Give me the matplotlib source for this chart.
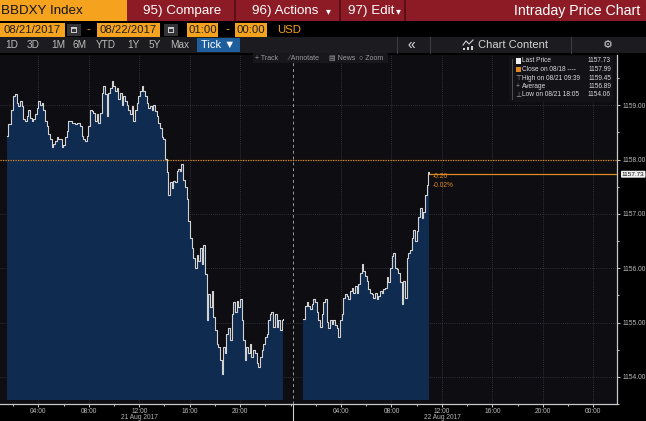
import matplotlib
matplotlib.use("Agg")
import matplotlib.pyplot as plt
import matplotlib.transforms as mtransforms
from matplotlib.patches import Rectangle
from matplotlib.lines import Line2D
import numpy as np

plt.rcParams['font.family'] = ['Liberation Sans', 'DejaVu Sans']

# ---------------- data ----------------
TICKER = "BBDXY Index"
START_DATE, END_DATE = "08/21/2017", "08/22/2017"
START_TIME, END_TIME = "01:00", "00:00"
CURRENCY = "USD"
PERIOD_BUTTONS = ["1D", "3D", "1M", "6M", "YTD", "1Y", "5Y", "Max"]

# minutes since 21 Aug 2017 00:00
day1_minutes = [
    90, 97, 110, 121, 129, 137, 145, 153, 161, 168,
    176, 184, 192, 200, 208, 216, 224, 232, 240, 248,
    256, 264, 272, 280, 288, 296, 303, 311, 319, 327,
    335, 343, 351, 359, 367, 375, 383, 391, 399, 406,
    414, 422, 430, 438, 446, 454, 462, 470, 478, 486,
    494, 502, 509, 517, 525, 533, 541, 549, 557, 565,
    573, 581, 589, 597, 605, 612, 620, 628, 636, 644,
    652, 660, 668, 676, 684, 692, 700, 708, 715, 723,
    731, 739, 747, 755, 763, 771, 779, 787, 795, 803,
    811, 818, 826, 834, 842, 850, 858, 866, 874, 882,
    890, 898, 906, 914, 921, 929, 937, 945, 953, 961,
    969, 977, 985, 993, 1001, 1009, 1017, 1024, 1032, 1040,
    1048, 1056, 1064, 1072, 1080, 1088, 1096, 1104, 1112, 1120,
    1127, 1135, 1143, 1151, 1159, 1167, 1175, 1183, 1191, 1199,
    1207, 1215, 1223, 1230, 1238, 1246, 1254, 1262, 1270, 1278,
    1286, 1294, 1302, 1310, 1318, 1326, 1333, 1341, 1349, 1357,
    1365, 1373, 1381, 1389, 1397, 1405]
day1_prices = [
    1158.44, 1158.65, 1158.92, 1159.17, 1159.20, 1159.05, 1158.98, 1159.07, 1158.98, 1158.74,
    1158.71, 1158.80, 1158.92, 1158.77, 1158.71, 1158.74, 1158.83, 1158.95, 1159.07, 1159.01,
    1159.05, 1158.92, 1158.71, 1158.62, 1158.47, 1158.38, 1158.23, 1158.29, 1158.35, 1158.41,
    1158.38, 1158.38, 1158.23, 1158.26, 1158.41, 1158.53, 1158.71, 1158.71, 1158.68, 1158.68,
    1158.65, 1158.68, 1158.68, 1158.62, 1158.44, 1158.38, 1158.35, 1158.44, 1158.62, 1158.92,
    1158.89, 1158.86, 1158.71, 1158.83, 1158.68, 1158.86, 1159.23, 1159.35, 1159.20, 1158.80,
    1159.23, 1159.32, 1159.45, 1159.35, 1159.26, 1159.32, 1159.11, 1159.23, 1159.01, 1159.17,
    1159.07, 1159.01, 1158.92, 1158.83, 1158.98, 1158.71, 1158.92, 1159.05, 1159.17, 1159.26,
    1159.35, 1159.26, 1159.17, 1159.05, 1158.95, 1158.98, 1158.92, 1159.01, 1158.89, 1158.80,
    1158.68, 1158.59, 1158.41, 1158.38, 1158.01, 1157.77, 1157.34, 1157.59, 1157.47, 1157.61,
    1157.59, 1157.79, 1157.83, 1157.79, 1157.92, 1157.63, 1157.50, 1157.28, 1156.86, 1156.56,
    1156.37, 1156.19, 1156.01, 1156.25, 1156.13, 1156.37, 1156.07, 1156.43, 1155.89, 1155.04,
    1155.52, 1155.28, 1155.58, 1155.10, 1154.86, 1154.61, 1154.55, 1154.31, 1154.06, 1154.55,
    1154.43, 1154.79, 1154.89, 1154.67, 1155.16, 1155.37, 1155.19, 1155.40, 1155.28, 1155.43,
    1155.04, 1154.67, 1154.31, 1154.55, 1154.43, 1154.61, 1154.37, 1154.49, 1154.43, 1154.25,
    1154.19, 1154.37, 1154.49, 1154.61, 1154.73, 1154.79, 1155.04, 1155.16, 1155.19, 1154.92,
    1155.16, 1154.92, 1155.04, 1154.86, 1155.04, 1155.07]

day2_minutes = [
    1501, 1509, 1517, 1525, 1532, 1540, 1548, 1556, 1564, 1572,
    1580, 1588, 1596, 1604, 1612, 1620, 1628, 1635, 1643, 1651,
    1659, 1667, 1675, 1683, 1691, 1699, 1707, 1715, 1723, 1731,
    1738, 1746, 1754, 1762, 1770, 1778, 1786, 1794, 1802, 1810,
    1818, 1826, 1834, 1842, 1850, 1857, 1865, 1873, 1881, 1889,
    1897, 1905, 1913, 1921, 1929, 1937, 1945, 1953, 1961, 1969,
    1977, 1985, 1993, 2000, 2008, 2016, 2024, 2032, 2040, 2048,
    2056, 2064, 2072, 2080, 2088, 2093, 2096, 2098]
day2_prices = [
    1155.07, 1155.31, 1155.37, 1155.31, 1155.25, 1155.34, 1155.43, 1155.37, 1155.19, 1155.04,
    1154.92, 1155.16, 1155.37, 1155.43, 1155.01, 1154.89, 1155.04, 1154.98, 1155.04, 1154.95,
    1154.89, 1154.73, 1155.04, 1155.16, 1155.46, 1155.52, 1155.49, 1155.43, 1155.58, 1155.64,
    1155.55, 1155.68, 1155.55, 1155.70, 1155.92, 1156.07, 1155.95, 1155.86, 1155.77, 1155.61,
    1155.55, 1155.52, 1155.46, 1155.55, 1155.43, 1155.49, 1155.58, 1155.55, 1155.61, 1155.64,
    1155.83, 1155.74, 1156.01, 1156.22, 1156.28, 1156.01, 1155.98, 1155.92, 1155.74, 1155.34,
    1155.77, 1155.46, 1156.19, 1156.28, 1156.34, 1156.56, 1156.71, 1156.50, 1156.68, 1156.95,
    1157.10, 1156.92, 1157.04, 1157.34, 1157.53, 1157.68, 1157.77, 1157.73]

PREV_CLOSE = 1157.99
PREV_CLOSE_DATE = "08/18"
LAST_PRICE = 1157.73
HIGH, HIGH_WHEN = 1159.45, "08/21 09:39"
AVERAGE = 1156.89
LOW, LOW_WHEN = 1154.06, "08/21 18:05"

y_ticks = [1154.0, 1155.0, 1156.0, 1157.0, 1158.0, 1159.0]
x_tick_hours = [4, 8, 12, 16, 20, 28, 32, 36, 40, 44, 48]
x_tick_labels = ["04:00", "08:00", "12:00", "16:00", "20:00",
                 "04:00", "08:00", "12:00", "16:00", "20:00", "00:00"]
date_label_hours = [12, 36]
date_labels = ["21 Aug 2017", "22 Aug 2017"]

# ---------------- colours ----------------
ORANGE = '#f5a21e'
RED = '#8d1b26'
PLOT_BG = '#0d0d12'
FILL = '#0f2b50'
LINE = '#d2d2d2'
GRID = '#3e3e46'
AXIS = '#c8c8c8'
ORANGE_LINE = '#dd8a22'

W, H = 646, 421
fig = plt.figure(figsize=(W / 100, H / 100), dpi=100, facecolor='black')


def fx(x):
    return x / W


def fy(y):
    return 1 - y / H


def rect(x0, y0, x1, y1, color, z=1):
    fig.add_artist(Rectangle((fx(x0), fy(y1)), (x1 - x0) / W, (y1 - y0) / H,
                             transform=fig.transFigure, facecolor=color,
                             edgecolor='none', zorder=z))


def txt(x, y, s, **kw):
    kw.setdefault('va', 'center')
    kw.setdefault('zorder', 5)
    fig.text(fx(x), fy(y), s, **kw)


def vline(x, y0, y1, color, lw=0.8, z=3, ls='-'):
    fig.add_artist(Line2D([fx(x), fx(x)], [fy(y0), fy(y1)], transform=fig.transFigure,
                          color=color, lw=lw, zorder=z, ls=ls))


# ---------------- main axes ----------------
ax = fig.add_axes([0, fy(404), fx(617), (404 - 55) / H])
ax.set_facecolor(PLOT_BG)

t1 = np.array(day1_minutes) / 60.0
t2 = np.array(day2_minutes) / 60.0
p1 = np.array(day1_prices)
p2 = np.array(day2_prices)

ymin, ymax = 1153.568, 1159.925
xmin, xmax = 0.96, 49.88
ax.set_xlim(xmin, xmax)
ax.set_ylim(ymin, ymax)

for t, p in ((t1, p1), (t2, p2)):
    ax.fill_between(t, p, ymin, step='post', color=FILL, lw=0, zorder=2)
    ax.step(t, p, where='post', color=LINE, lw=0.8, zorder=4)

# grid
ax.set_yticks(y_ticks)
ax.set_yticklabels([f"{v:.2f}" for v in y_ticks])
ax.set_yticks(np.arange(1153.5, 1160.0, 0.5), minor=True)
ax.set_xticks(x_tick_hours)
ax.set_xticklabels(x_tick_labels)
ax.set_xticks(np.arange(2, 50, 2), minor=True)
ax.grid(True, which='major', color=GRID, ls=(0, (1, 1.5)), lw=0.6, zorder=1)
ax.set_axisbelow(True)

ax.yaxis.tick_right()
for s in ('left', 'top'):
    ax.spines[s].set_visible(False)
for s in ('right', 'bottom'):
    ax.spines[s].set_color(AXIS)
    ax.spines[s].set_linewidth(0.9)
ax.tick_params(axis='both', which='both', colors=AXIS, labelcolor='#bcbcbc',
               labelsize=4.8, direction='out', width=0.7)
ax.tick_params(axis='y', which='major', length=2.5, pad=1.2)
ax.tick_params(axis='y', which='minor', length=1.5)
ax.tick_params(axis='x', which='major', length=1.8, pad=1.2)
ax.tick_params(axis='x', which='minor', length=1.2)

# previous close (dotted) and last price (solid) lines
ax.axhline(PREV_CLOSE, color=ORANGE_LINE, ls=(0, (1, 1)), lw=0.9, zorder=5)
t_last = t2[-1]
ax.hlines(LAST_PRICE, t_last, xmax, color=ORANGE_LINE, lw=0.9, zorder=5)

chg = LAST_PRICE - PREV_CLOSE
pct = chg / PREV_CLOSE * 100
ax.annotate(f"{chg:.2f}", (t_last, LAST_PRICE), xytext=(2.6, -1.9),
            textcoords='offset points', color=ORANGE_LINE, fontsize=4.8,
            va='center', ha='left', zorder=6)
ax.annotate(f"{pct:.2f}%", (t_last, LAST_PRICE), xytext=(2.6, -8.4),
            textcoords='offset points', color=ORANGE_LINE, fontsize=4.8,
            va='center', ha='left', zorder=6)

# last-price tag on the axis
ytrans = mtransforms.blended_transform_factory(ax.transAxes, ax.transData)
ax.text(1.008, LAST_PRICE, f"{LAST_PRICE:.2f}", transform=ytrans, fontsize=4.6,
        color='#111111', va='center', ha='left', clip_on=False, zorder=7,
        bbox=dict(boxstyle='round,pad=0.15', fc='#f0f0f0', ec='none'))

# day separator
sep = (t1[-1] + t2[0]) / 2
ax.axvline(sep, color='#9a9a9a', ls=(0, (3, 3)), lw=0.7, zorder=3)
xtrans = mtransforms.blended_transform_factory(ax.transData, ax.transAxes)
ax.add_line(Line2D([sep, sep], [0, -0.06], transform=xtrans, color='#d0d0d0',
                   lw=0.8, clip_on=False))

for h, lab in zip(date_label_hours, date_labels):
    ax.text(h, -0.039, lab, transform=xtrans, fontsize=4.8, color='#b4b4b4',
            ha='center', va='center', clip_on=False)

# ---------------- header ----------------
# row 1
rect(0, 0, 127, 21, ORANGE)
rect(127, 0, W, 21, RED)
for x in (235, 340, 405):
    rect(x - 1, 0, x + 1, 21, '#5c0e16', z=2)
txt(1, 11, TICKER, fontsize=9.6, color='#141414', ha='left')
txt(143, 11, "95) Compare", fontsize=9.6, color='white', ha='left')
txt(252, 11, "96) Actions", fontsize=9.6, color='white', ha='left')
txt(328, 11, "▾", fontsize=7, color='white', ha='center', family='DejaVu Sans')
txt(348, 11, "97) Edit", fontsize=9.6, color='white', ha='left')
txt(398.5, 11, "▾", fontsize=7, color='white', ha='center', family='DejaVu Sans')
txt(640, 11, "Intraday Price Chart", fontsize=10.2, color='white', ha='right')

# row 2
def field(x0, x1, s):
    rect(x0, 23, x1, 37, ORANGE)
    txt((x0 + x1) / 2, 30, s, fontsize=8.2, color='#1e1e1e', ha='center')


def cal_icon(x0):
    rect(x0, 24, x0 + 14, 36, '#333338')
    rect(x0 + 4, 27, x0 + 10, 33, '#c8c8c8', z=2)
    rect(x0 + 5, 29, x0 + 9, 32, '#333338', z=3)


field(0, 65, START_DATE)
cal_icon(67)
txt(88, 30, "-", fontsize=8.5, color=ORANGE, ha='center')
field(97, 160, END_DATE)
cal_icon(164)
field(187, 218, START_TIME)
txt(227, 30, "-", fontsize=8.5, color=ORANGE, ha='center')
field(235, 267, END_TIME)
txt(277, 30, CURRENCY, fontsize=8.2, color=ORANGE, ha='left')

# row 3
rect(0, 37, W, 53, '#1c1c20')
for lab, xc in zip(PERIOD_BUTTONS, [12, 33, 58, 80, 106, 133, 155, 180]):
    txt(xc, 45, lab, fontsize=7.2, color='#bcbcbc', ha='center')
rect(197, 38, 240, 52, '#1f5e9c', z=2)
txt(218, 45, "Tick ▼", fontsize=8, color='white', ha='center',
    family=['Liberation Sans', 'DejaVu Sans'])
for x in (397, 430, 571):
    vline(x, 37, 53, '#3c3c42', lw=0.8)
txt(411, 44.5, "«", fontsize=10, color='#dcdcdc', ha='center')
# chart-content icon
fig.add_artist(Line2D([fx(463), fx(466), fx(469), fx(473)], [fy(45), fy(41), fy(44), fy(40)],
                      transform=fig.transFigure, color='#d0d0d0', lw=0.8, zorder=4))
for bx, bh in ((463, 2), (467, 3), (471, 4)):
    rect(bx, 50 - bh, bx + 2, 50, '#d0d0d0', z=4)
txt(478, 45, "Chart Content", fontsize=8, color='#d4d4d4', ha='left')
txt(608, 45, "⚙", fontsize=8, color='#cfcfcf', ha='center', family='DejaVu Sans')

# plot toolbar
rect(253, 53, 388, 63, '#17171c', z=6)
for xs, lab in ((255, "+ Track"), (288, "⁄ Annotate"), (329, "▤ News"), (359, "○ Zoom")):
    txt(xs, 58, lab, fontsize=5.0, color='#9c9c9c', ha='left', zorder=7,
        family=['Liberation Sans', 'DejaVu Sans'])

# legend box
rect(509, 56, 613, 102, '#121217', z=6)
vline(511.5, 59, 99, '#5a5a5a', lw=0.6, z=7)
rows_y = [61, 69.5, 78, 86.5, 95]
rect(515.5, 58.5, 520.5, 63.5, '#f2f2f2', z=7)
rect(515.5, 67, 520.5, 72, ORANGE_LINE, z=7)
txt(518, 78, "⊤", fontsize=5, color='#a0a0a0', ha='center', zorder=8, family='DejaVu Sans')
txt(518, 86.5, "+", fontsize=5, color='#a0a0a0', ha='center', zorder=8)
txt(518, 95, "⊥", fontsize=5, color='#a0a0a0', ha='center', zorder=8, family='DejaVu Sans')
leg_labels = ["Last Price", f"Close on {PREV_CLOSE_DATE} ----", f"High on {HIGH_WHEN}",
              "Average", f"Low on {LOW_WHEN}"]
leg_values = [LAST_PRICE, PREV_CLOSE, HIGH, AVERAGE, LOW]
for yy, lab, val in zip(rows_y, leg_labels, leg_values):
    txt(522, yy, lab, fontsize=4.7, color='#dcdcdc', ha='left', zorder=8)
    txt(611, yy, f"{val:.2f}", fontsize=4.7, color='#dcdcdc', ha='right', zorder=8)

fig.savefig("out.png", dpi=100, facecolor='black')
